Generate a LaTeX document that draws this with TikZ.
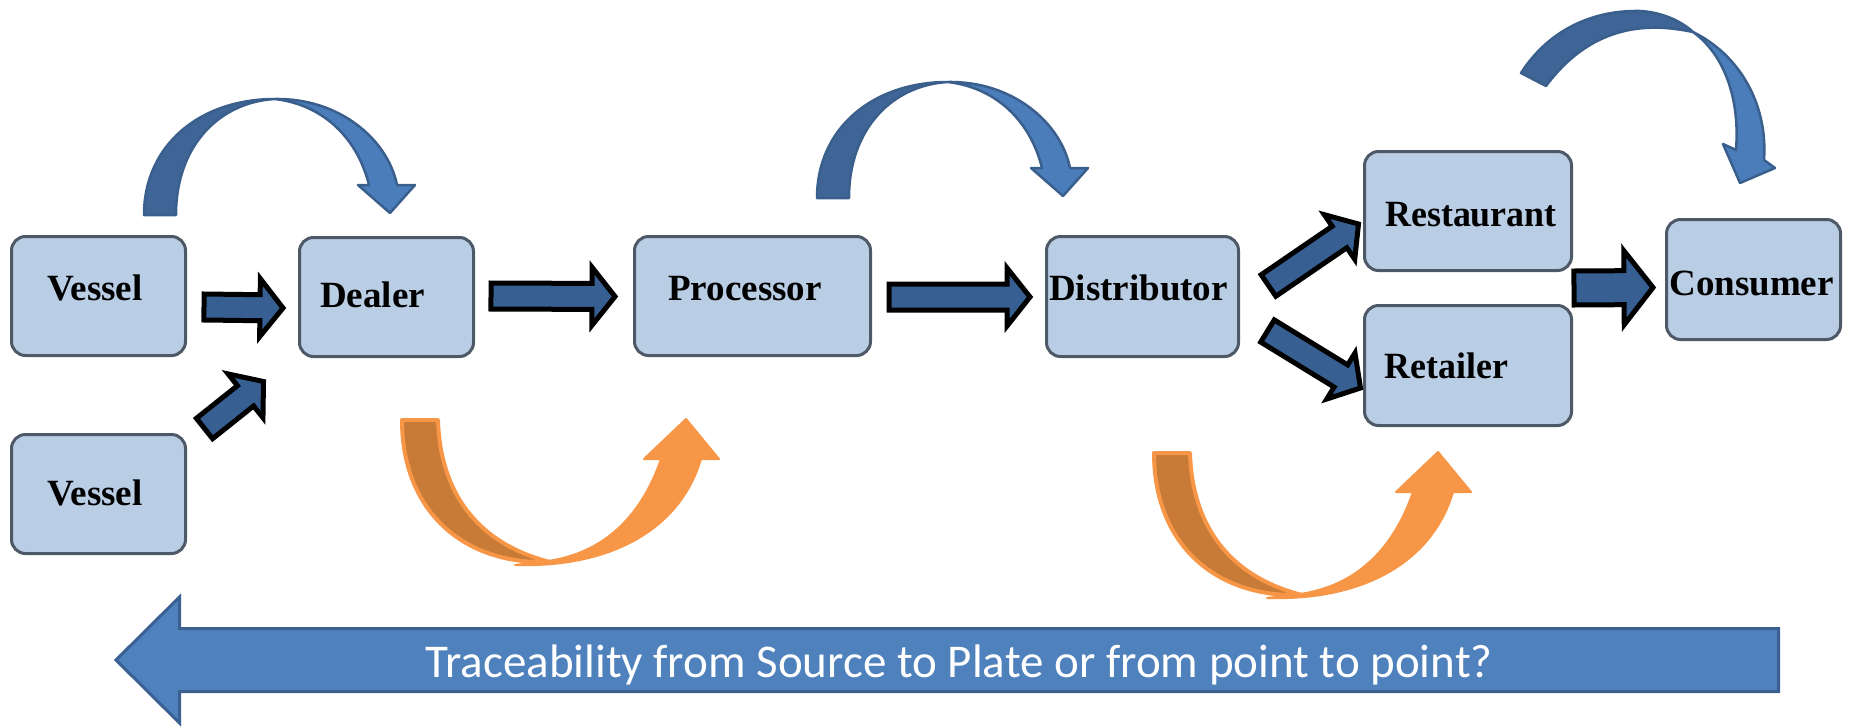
\documentclass[tikz,border=0pt]{standalone}
\usepackage{fontspec}
\setmainfont{Liberation Serif}
\newfontfamily\calib{Carlito}
\usepackage{graphicx}
\usetikzlibrary{calc}
\definecolor{boxfill}{HTML}{B9CDE5}
\definecolor{boxline}{HTML}{4D5966}
\definecolor{arrowfill}{HTML}{375F92}
\definecolor{bluedark}{HTML}{3F6597}
\definecolor{bluelight}{HTML}{4A7DBA}
\definecolor{blueline}{HTML}{3A5F8D}
\definecolor{bigfill}{HTML}{4F81BD}
\definecolor{bigline}{HTML}{3B6192}
\definecolor{orangedark}{HTML}{C77B36}
\definecolor{orangelight}{HTML}{F79646}
\tikzset{
  box/.style={draw=boxline, fill=boxfill, line width=3pt, rounded corners=14pt, inner sep=0pt, minimum height=119pt},
  lbl/.style={anchor=base, inner sep=0pt, font=\fontsize{37}{40}\selectfont\bfseries},
  barrow/.style={fill=arrowfill, draw=black, line width=5pt, line join=miter, miter limit=6},
  cdark/.style={fill=bluedark, draw=blueline, line width=2.5pt, line join=round},
  clight/.style={fill=bluelight, draw=blueline, line width=2.5pt, line join=round},
  odark/.style={fill=orangedark, draw=orangelight, line width=4pt, line join=round},
  olight/.style={fill=orangelight, draw=orangelight, line width=2pt, line join=round},
  bigarrow/.style={fill=bigfill, draw=bigline, line width=3pt, line join=miter}
}
\newcommand\blockarrow[5]{%
  \path (#1) coordinate (bas) (#2) coordinate (bae);
  \path ($(bae)!#5pt!(bas)$) coordinate (bab);
  \filldraw[barrow] ($(bas)!#3pt!90:(bae)$) -- ($(bab)!#3pt!90:(bae)$) -- ($(bab)!#4pt!90:(bae)$) -- (bae)
    -- ($(bab)!#4pt!-90:(bae)$) -- ($(bab)!#3pt!-90:(bae)$) -- ($(bas)!#3pt!-90:(bae)$) -- cycle;
}
\newcommand\bluecurve{%
  \filldraw[cdark] (144,215) .. controls (144,145) and (200,99) .. (275,99)
    .. controls (220,102) and (176,145) .. (176,215) -- cycle;
  \filldraw[clight] (275,99) .. controls (340,98) and (388,140) .. (397,185) -- (415,185) -- (390,213)
    -- (358,185) -- (369,185) .. controls (358,140) and (325,105) .. (275,99) -- cycle;
}
\newcommand\orangecurve{%
  \filldraw[odark] (402,420) -- (438,420) .. controls (440,490) and (475,543) .. (550,562)
    .. controls (462,565) and (402,510) .. (402,420) -- cycle;
  \filldraw[olight] (515,565) .. controls (610,568) and (680,530) .. (701,459) -- (719,459) -- (686,419)
    -- (644,459) -- (661,459) .. controls (640,520) and (600,556) .. (540,562) -- cycle;
}
\begin{document}
\begin{tikzpicture}[x=1pt,y=-1pt]
\useasboundingbox (0,0) rectangle (1850,726);
% curved arrows
\bluecurve
\begin{scope}[shift={(673,-17)}]\bluecurve\end{scope}
\filldraw[cdark] (1521,73) .. controls (1550,28) and (1595,10) .. (1640,11)
  .. controls (1660,12) and (1680,20) .. (1693,32)
  .. controls (1655,24) and (1595,20) .. (1546,86) -- cycle;
\filldraw[clight] (1693,32) .. controls (1740,55) and (1768,105) .. (1764,160) -- (1775,168) -- (1740,183)
  -- (1723,144) -- (1736,150) .. controls (1740,100) and (1725,55) .. (1693,32) -- cycle;
\orangecurve
\begin{scope}[shift={(752,33)}]\orangecurve\end{scope}
% boxes
\node[box, minimum width=174pt] (v1) at (98.5,296) {};
\node[box, minimum width=174pt] (v2) at (98.5,494) {};
\node[box, minimum width=174pt] (dealer) at (386.5,297) {};
\node[box, minimum width=236pt] (processor) at (752.5,296) {};
\node[box, minimum width=192pt, minimum height=120pt] (distributor) at (1142.5,296.5) {};
\node[box, minimum width=207pt] (restaurant) at (1468,211) {};
\node[box, minimum width=207pt, minimum height=120pt] (retailer) at (1468,365.5) {};
\node[box, minimum width=174pt, minimum height=120pt] (consumer) at (1753.5,279.5) {};
% labels
\node[lbl] (v1t) at (95,300) {Vessel};
\node[lbl] (v2t) at (95,505) {Vessel};
\node[lbl] (dealert) at (372.5,307) {Dealer};
\node[lbl] (processort) at (745,300) {Processor};
\node[lbl] (distributort) at (1138.5,300) {Distributor};
\node[lbl] (restaurantt) at (1471,226) {\scalebox{0.97}[1]{Restaurant}};
\node[lbl] (retailert) at (1446.5,378) {\scalebox{0.97}[1]{Retailer}};
\node[lbl] (consumert) at (1751.5,295) {Consumer};
% block arrows
\blockarrow{$(v1.east)+(17,11)$}{$(dealer.west)+(-15,11)$}{13}{29}{23}
\blockarrow{$(v2.north east)+(17.5,-4.5)$}{$(dealer.south west)+(-34.5,23.5)$}{13}{28}{23}
\blockarrow{$(dealer.east)+(16,-1)$}{$(processor.west)+(-18,0.5)$}{13}{29}{23}
\blockarrow{$(processor.east)+(17,1)$}{$(distributor.west)+(-15,0.5)$}{13}{29}{23}
\blockarrow{$(distributor.east)+(28.5,-11)$}{$(restaurant.west)+(-4.5,13)$}{13}{27}{23}
\blockarrow{$(distributor.east)+(27.5,34.5)$}{$(retailer.west)+(-2.5,22.5)$}{13}{27}{23}
\coordinate (rc) at ($(restaurant.south east)!0.5!(retailer.north east)$);
\blockarrow{$(rc)+(1,0)$}{$(consumer.west)+(-12,8)$}{17}{37}{29}
% big arrow
\filldraw[bigarrow] (116,660) -- (179.5,597) -- (179.5,628.5) -- (1778.5,628.5) -- (1778.5,691.5)
  -- (179.5,691.5) -- (179.5,723) -- cycle;
\node[anchor=base, inner sep=0pt, text=white, font=\calib\fontsize{47}{50}\selectfont] (trace) at (959,677)
  {Traceability from Source to Plate or from point to point?};
\end{tikzpicture}
\end{document}
